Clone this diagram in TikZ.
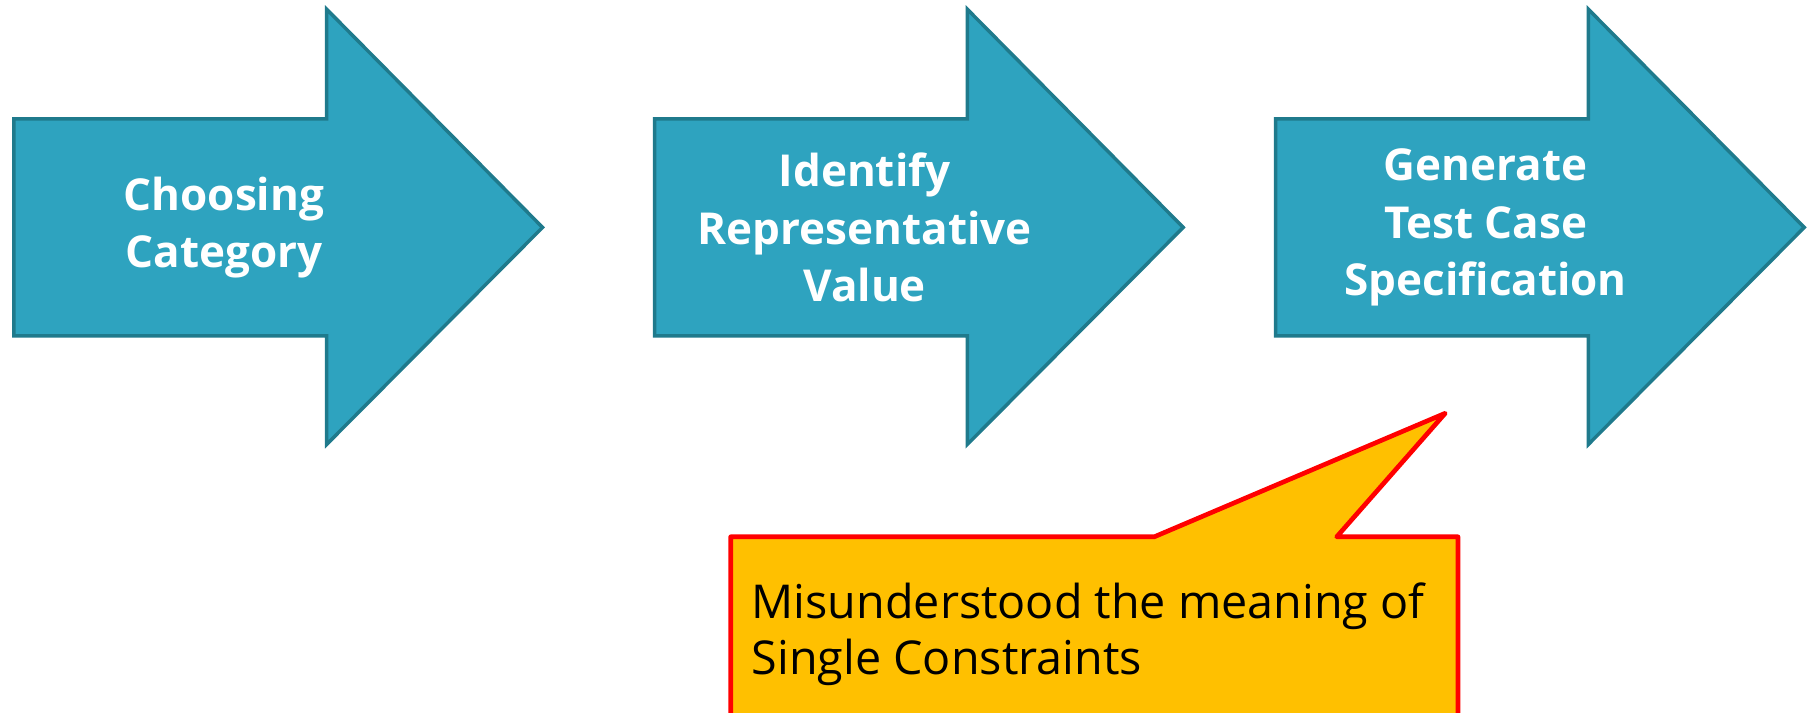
\documentclass[tikz,border=0pt]{standalone}
\usepackage{fontspec}
\setmainfont{Open Sans}
\definecolor{arrowfill}{HTML}{2EA3BF}
\definecolor{arrowline}{HTML}{1F7A8C}
\definecolor{notefill}{HTML}{FFC000}
\definecolor{noteline}{HTML}{FF0000}

\tikzset{
  steparrow/.style={fill=arrowfill, draw=arrowline, line width=2.6pt, line join=miter},
  steplabel/.style={text=white, font=\bfseries\fontsize{33}{43}\selectfont, align=center},
  notebox/.style={fill=notefill, draw=noteline, line width=3.5pt, line join=round},
  notetext/.style={font=\fontsize{35}{42}\selectfont, align=left, anchor=north west, inner sep=0pt},
}

\begin{document}
\begin{tikzpicture}[x=0.8658pt, y=-0.8658pt]
    \useasboundingbox (0,0) rectangle (1568,617.6);
    \clip (0,0) rectangle (1568,617.6);
    % the three steps
    \foreach \name/\x/\txt in {choose/12/{Choosing\\Category},
                               ident/567/{Identify\\Representative\\Value},
                               gen/1105/{Generate\\Test Case\\Specification}} {
        \draw [steparrow] (\x,103) -- ++(271,0) -- ++(0,-95) -- ++(187,189)
            -- ++(-187,188) -- ++(0,-94) -- ++(-271,0) -- cycle;
        \node [steplabel] (\name) at (\x+182,197) {\txt};
    }
    % callout below the last step
    \draw [notebox] (633,465) -- (1000,465) -- (1252,358) -- (1158,465)
        -- (1263,465) -- (1263,650) -- (633,650) -- cycle;
    \node [notetext] (misread) at (651,505) {Misunderstood the meaning of\\Single Constraints};
\end{tikzpicture}
\end{document}
